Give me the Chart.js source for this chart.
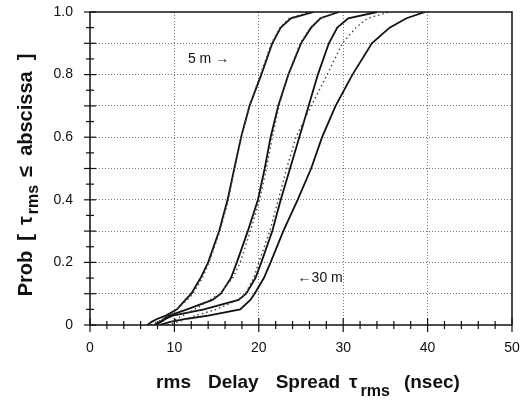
<!DOCTYPE html>
<html>
<head>
<meta charset="utf-8">
<script src="https://cdn.jsdelivr.net/npm/chart.js@4"></script>
<style>
  body { margin: 0; background: #fff; }
</style>
</head>
<body>
<canvas id="grafico" width="524" height="402"></canvas>
<script>
// cumulative probability levels shared by every curve
const probLevels = [0, 0.01, 0.02, 0.03, 0.05, 0.08, 0.1, 0.15, 0.2, 0.3, 0.4, 0.5, 0.6, 0.7, 0.8, 0.9, 0.95, 0.98, 1.0];

// measured rms delay spread (nsec) at each level, 5 m ... 30 m
const measured5m  = [6.8, 7.3, 8.0, 9.0, 10.3, 11.3, 12.0, 13.1, 14.0, 15.3, 16.3, 17.1, 17.9, 18.9, 20.3, 21.6, 22.6, 23.8, 26.5];
const measuredB   = [7.6, 8.3, 8.8, 9.4, 11.5, 14.5, 15.5, 16.7, 17.4, 18.7, 19.9, 20.7, 21.4, 22.3, 23.5, 25.0, 26.2, 27.3, 29.5];
const measuredC   = [7.6, 8.4, 9.0, 9.8, 13.5, 17.6, 18.5, 19.6, 20.3, 21.6, 22.6, 23.7, 24.8, 25.9, 27.0, 28.3, 29.3, 30.6, 34.0];
const measured30m = [8.2, 9.5, 11.5, 14.0, 17.8, 19.0, 19.5, 20.6, 21.4, 22.9, 24.6, 26.2, 27.5, 29.1, 31.1, 33.4, 35.5, 37.5, 39.7];

// dotted (fitted) curves
const fitA = [7.2, 8.0, 8.7, 9.3, 10.3, 11.5, 12.2, 13.3, 14.1, 15.4, 16.4, 17.1, 17.9, 18.9, 20.2, 21.5, 22.5, 23.6, 26.0];
const fitB = [8.6, 9.6, 10.3, 11.0, 12.4, 14.2, 15.4, 16.9, 17.8, 19.0, 20.1, 20.9, 21.6, 22.4, 23.5, 24.9, 26.1, 27.3, 29.3];
const fitC = [9.2, 10.5, 11.5, 12.5, 15.0, 17.5, 18.4, 19.4, 20.0, 21.3, 22.3, 23.3, 24.4, 26.2, 28.1, 29.9, 31.5, 32.9, 35.5];

const FONT = "'Liberation Sans', Arial, sans-serif";
const INK = "#111";

function pontos(xs) {
    return xs.map((x, i) => ({ x: x, y: probLevels[i] }));
}

function linha(xs, dotted) {
    return {
        data: pontos(xs),
        showLine: true,
        borderColor: dotted ? "#444" : INK,
        borderWidth: dotted ? 1.4 : 1.8,
        borderDash: dotted ? [1.5, 3] : [],
        pointRadius: 0,
        tension: 0
    };
}

// text drawn with subscripts, centered on (cx, cy)
function textoRico(ctx, partes, cx, cy) {
    let total = 0;
    partes.forEach(p => {
        ctx.font = "bold " + p.size + "px " + FONT;
        p.w = ctx.measureText(p.t).width;
        total += p.w + (p.gap || 0);
    });
    let x = cx - total / 2;
    ctx.textBaseline = "alphabetic";
    ctx.textAlign = "left";
    partes.forEach(p => {
        x += p.gap || 0;
        ctx.font = "bold " + p.size + "px " + FONT;
        ctx.fillText(p.t, x, cy + (p.dy || 0));
        x += p.w;
    });
}

const notas = [
    { text: "5 m \u2192", x: 11.6, y: 0.85 },
    { text: "\u219030 m", x: 24.6, y: 0.15 }
];

const decor = {
    id: "decor",
    afterDraw(chart) {
        const { ctx, chartArea: a, scales: { x, y } } = chart;
        ctx.save();
        ctx.strokeStyle = INK;
        ctx.lineWidth = 1.5;
        ctx.strokeRect(a.left, a.top, a.right - a.left, a.bottom - a.top);

        ctx.lineWidth = 1.2;
        x.ticks.forEach(t => {
            const px = x.getPixelForValue(t.value);
            const big = t.value % 10 === 0;
            ctx.beginPath();
            ctx.moveTo(px, a.bottom - (big ? 7 : 4));
            ctx.lineTo(px, a.bottom + (big ? 7 : 4));
            ctx.stroke();
        });
        y.ticks.forEach(t => {
            const py = y.getPixelForValue(t.value);
            const big = Math.round(t.value * 100) % 10 === 0;
            ctx.beginPath();
            ctx.moveTo(a.left - (big ? 6 : 4), py);
            ctx.lineTo(a.left + (big ? 6 : 4), py);
            ctx.stroke();
        });

        ctx.fillStyle = INK;
        ctx.font = "14px " + FONT;
        ctx.textBaseline = "middle";
        notas.forEach(n => {
            ctx.fillText(n.text, x.getPixelForValue(n.x), y.getPixelForValue(n.y));
        });

        textoRico(ctx, [
            { t: "rms", size: 19 },
            { t: "Delay", size: 19, gap: 17 },
            { t: "Spread", size: 19, gap: 17 },
            { t: "\u03c4", size: 19, gap: 9 },
            { t: "rms", size: 16, dy: 8, gap: 3 },
            { t: "(nsec)", size: 19, gap: 14 }
        ], 308, 388);

        ctx.translate(32, 175);
        ctx.rotate(-Math.PI / 2);
        textoRico(ctx, [
            { t: "Prob", size: 20 },
            { t: "[", size: 20, gap: 10 },
            { t: "\u03c4", size: 20, gap: 9 },
            { t: "rms", size: 16, dy: 6, gap: 2 },
            { t: "\u2264", size: 20, gap: 8 },
            { t: "abscissa", size: 20, gap: 10 },
            { t: "]", size: 20, gap: 11 }
        ], 0, 0);
        ctx.restore();
    }
};

const ctx = document.getElementById("grafico");

new Chart(ctx, {
    type: "scatter",
    data: {
        datasets: [
            linha(fitA, true),
            linha(fitB, true),
            linha(fitC, true),
            linha(measured5m, false),
            linha(measuredB, false),
            linha(measuredC, false),
            linha(measured30m, false)
        ]
    },
    options: {
        responsive: false,
        animation: false,
        layout: { padding: { top: 12, right: 12, left: 0, bottom: 0 } },
        plugins: {
            legend: { display: false },
            tooltip: { enabled: false }
        },
        scales: {
            x: {
                type: "linear",
                min: 0,
                max: 50,
                afterFit: s => {
                    s.height = 77;
                    s.paddingLeft = 0;
                    s.paddingRight = 0;
                },
                ticks: {
                    stepSize: 2,
                    autoSkip: false,
                    maxRotation: 0,
                    padding: 15,
                    color: INK,
                    font: { family: FONT, size: 14 },
                    callback: v => (v % 10 === 0 ? String(v) : "")
                },
                grid: {
                    drawTicks: false,
                    lineWidth: 1,
                    color: c => (c.tick && c.tick.value % 10 === 0 && c.tick.value > 0 && c.tick.value < 50 ? "#777" : "rgba(0,0,0,0)")
                },
                border: { display: false, dash: [1, 2] }
            },
            y: {
                type: "linear",
                min: 0,
                max: 1,
                afterFit: s => {
                    s.width = 90;
                    s.paddingTop = 0;
                    s.paddingBottom = 0;
                },
                ticks: {
                    stepSize: 0.05,
                    autoSkip: false,
                    padding: 17,
                    color: INK,
                    font: { family: FONT, size: 14 },
                    callback: v => {
                        const k = Math.round(v * 100);
                        if (k % 20 !== 0) return "";
                        return k === 0 ? "0" : v.toFixed(1);
                    }
                },
                grid: {
                    drawTicks: false,
                    lineWidth: 1,
                    color: c => {
                        if (!c.tick) return "rgba(0,0,0,0)";
                        const k = Math.round(c.tick.value * 100);
                        return k % 10 === 0 && k > 0 && k < 100 ? "#777" : "rgba(0,0,0,0)";
                    }
                },
                border: { display: false, dash: [1, 2] }
            }
        }
    },
    plugins: [decor]
});
</script>
</body>
</html>
